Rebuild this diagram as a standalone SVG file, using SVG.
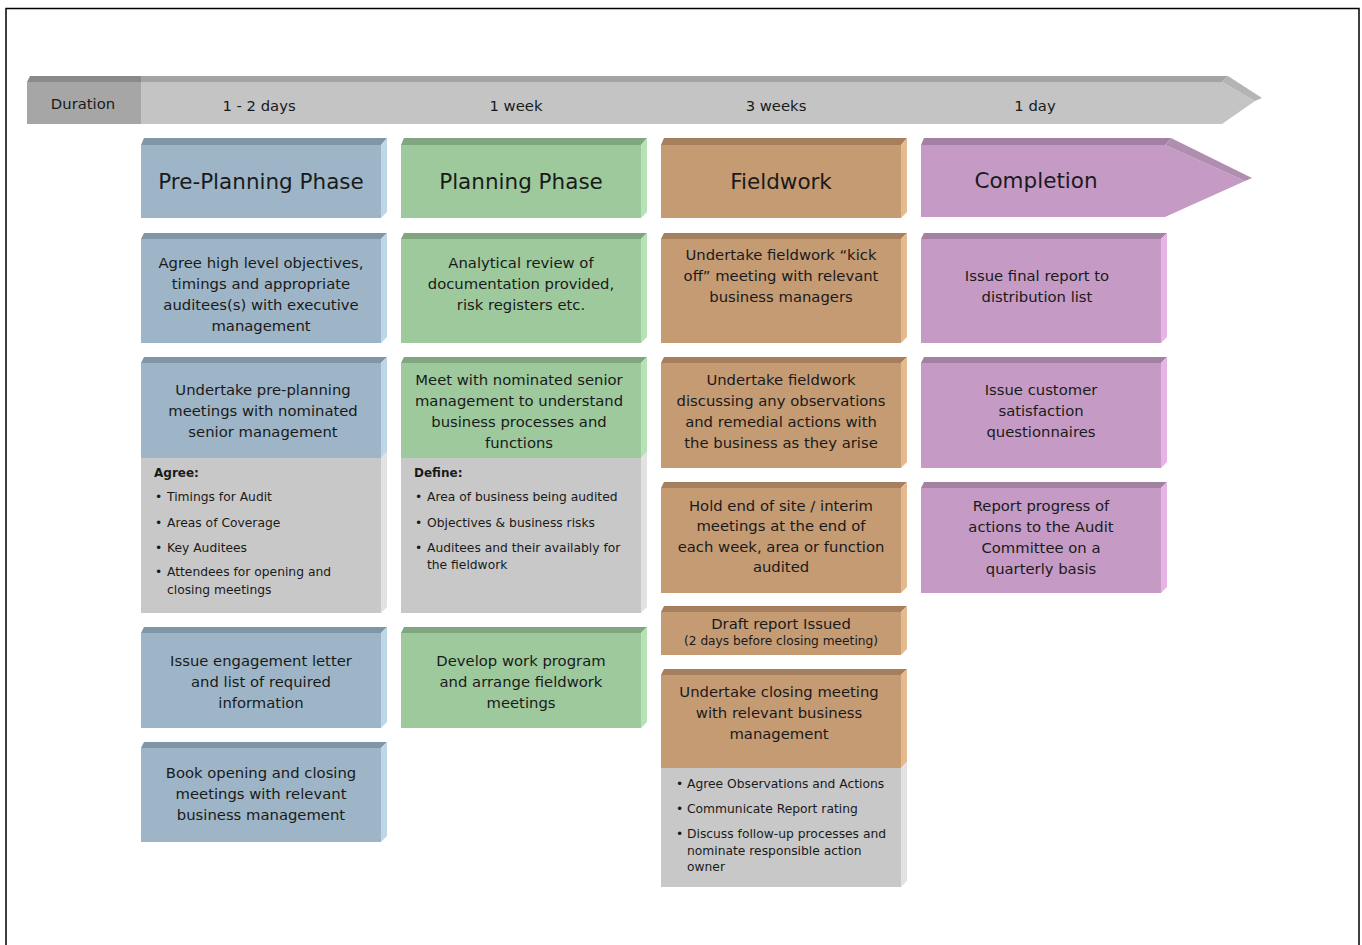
<svg xmlns="http://www.w3.org/2000/svg" width="1362" height="945" viewBox="0 0 1362 945">
<style>
text{font-family:"DejaVu Sans","Liberation Sans",sans-serif;fill:#1a1a1a}
.b{font-size:14.8px;text-anchor:middle}
.h{font-size:21.5px;text-anchor:middle}
.d{font-size:14.8px;text-anchor:middle}
.s{font-size:12.3px}
.sb{font-size:12px;font-weight:bold}
.bl .f{fill:#9db5c7}.bl .t{fill:#7f96a7}.bl .r{fill:#bcd7e7}
.gr .f{fill:#9dc99d}.gr .t{fill:#7fa67f}.gr .r{fill:#b6e2b6}
.tn .f{fill:#c59b74}.tn .t{fill:#a57f5e}.tn .r{fill:#e5ba8e}
.pu .f{fill:#c59bc5}.pu .t{fill:#a281a2}.pu .r{fill:#e5b5e5}
.gy{fill:#c8c8c8}.gyr{fill:#e2e2e2}
</style>
<rect x="6" y="8.5" width="1353" height="950" fill="#ffffff" stroke="#000000" stroke-width="1.5"/>

<g id="duration-bar">
<polygon points="27,82 30,76 141,76 141,82" fill="#8a8a8a"/>
<rect x="27" y="82" width="114" height="42" fill="#a6a6a6"/>
<polygon points="141,82 141,76 1228,76 1222,82" fill="#a4a4a4"/>
<polygon points="141,82 1222,82 1255,101 1222,124 141,124" fill="#c4c4c4"/>
<polygon points="1222,82 1228,76 1262,98 1255,101" fill="#b4b4b4"/>
<text class="d" x="83" y="109">Duration</text>
<text class="d" x="259" y="111">1 - 2 days</text>
<text class="d" x="516" y="111">1 week</text>
<text class="d" x="776" y="111">3 weeks</text>
<text class="d" x="1035" y="111">1 day</text>
</g>

<g id="hdr-preplanning" class="bl">
<polygon class="t" points="141,145 144,138 387,138 381,145"/>
<rect class="f" x="141" y="145" width="240" height="73"/>
<polygon class="r" points="381,145 387,138 387,212 381,218"/>
<text class="h" x="261" y="189">Pre-Planning Phase</text>
</g>
<g id="hdr-planning" class="gr">
<polygon class="t" points="401,145 404,138 647,138 641,145"/>
<rect class="f" x="401" y="145" width="240" height="73"/>
<polygon class="r" points="641,145 647,138 647,212 641,218"/>
<text class="h" x="521" y="189">Planning Phase</text>
</g>
<g id="hdr-fieldwork" class="tn">
<polygon class="t" points="661,145 664,138 907,138 901,145"/>
<rect class="f" x="661" y="145" width="240" height="73"/>
<polygon class="r" points="901,145 907,138 907,212 901,218"/>
<text class="h" x="781" y="189">Fieldwork</text>
</g>
<g id="hdr-completion" class="pu">
<polygon class="t" points="921,145 924,138 1171,138 1165,145"/>
<polygon class="f" points="921,145 1165,145 1245,181 1165,217 921,217"/>
<polygon points="1165,145 1171,138 1252,178 1245,181" fill="#b08eb0"/>
<text class="h" x="1036" y="188">Completion</text>
</g>

<!-- Pre-planning column -->
<g id="pp1" class="bl">
<polygon class="t" points="141,239 144,233 387,233 381,239"/>
<rect class="f" x="141" y="239" width="240" height="104"/>
<polygon class="r" points="381,239 387,233 387,337 381,343"/>
<text class="b" x="261" y="268">Agree high level objectives,</text>
<text class="b" x="261" y="289">timings and appropriate</text>
<text class="b" x="261" y="310">auditees(s) with executive</text>
<text class="b" x="261" y="331">management</text>
</g>
<g id="pp2" class="bl">
<polygon class="t" points="141,363 144,357 387,357 381,363"/>
<rect class="f" x="141" y="363" width="240" height="95"/>
<rect class="gy" x="141" y="458" width="240" height="155"/>
<polygon class="r" points="381,363 387,357 387,452 381,458"/>
<polygon class="gyr" points="381,458 387,452 387,607 381,613"/>
<text class="b" x="263" y="395">Undertake pre-planning</text>
<text class="b" x="263" y="416">meetings with nominated</text>
<text class="b" x="263" y="437">senior management</text>
<text class="sb" x="154" y="477">Agree:</text>
<text class="s" x="155" y="501">•</text><text class="s" x="167" y="501">Timings for Audit</text>
<text class="s" x="155" y="527">•</text><text class="s" x="167" y="527">Areas of Coverage</text>
<text class="s" x="155" y="552">•</text><text class="s" x="167" y="552">Key Auditees</text>
<text class="s" x="155" y="576">•</text><text class="s" x="167" y="576">Attendees for opening and</text>
<text class="s" x="167" y="594">closing meetings</text>
</g>
<g id="pp3" class="bl">
<polygon class="t" points="141,633 144,627 387,627 381,633"/>
<rect class="f" x="141" y="633" width="240" height="95"/>
<polygon class="r" points="381,633 387,627 387,722 381,728"/>
<text class="b" x="261" y="666">Issue engagement letter</text>
<text class="b" x="261" y="687">and list of required</text>
<text class="b" x="261" y="708">information</text>
</g>
<g id="pp4" class="bl">
<polygon class="t" points="141,748 144,742 387,742 381,748"/>
<rect class="f" x="141" y="748" width="240" height="94"/>
<polygon class="r" points="381,748 387,742 387,836 381,842"/>
<text class="b" x="261" y="778">Book opening and closing</text>
<text class="b" x="261" y="799">meetings with relevant</text>
<text class="b" x="261" y="820">business management</text>
</g>

<!-- Planning column -->
<g id="pl1" class="gr">
<polygon class="t" points="401,239 404,233 647,233 641,239"/>
<rect class="f" x="401" y="239" width="240" height="104"/>
<polygon class="r" points="641,239 647,233 647,337 641,343"/>
<text class="b" x="521" y="268">Analytical review of</text>
<text class="b" x="521" y="289">documentation provided,</text>
<text class="b" x="521" y="310">risk registers etc.</text>
</g>
<g id="pl2" class="gr">
<polygon class="t" points="401,363 404,357 647,357 641,363"/>
<rect class="f" x="401" y="363" width="240" height="95"/>
<rect class="gy" x="401" y="458" width="240" height="155"/>
<polygon class="r" points="641,363 647,357 647,452 641,458"/>
<polygon class="gyr" points="641,458 647,452 647,607 641,613"/>
<text class="b" x="519" y="385">Meet with nominated senior</text>
<text class="b" x="519" y="406">management to understand</text>
<text class="b" x="519" y="427">business processes and</text>
<text class="b" x="519" y="448">functions</text>
<text class="sb" x="414" y="477">Define:</text>
<text class="s" x="415" y="501">•</text><text class="s" x="427" y="501">Area of business being audited</text>
<text class="s" x="415" y="527">•</text><text class="s" x="427" y="527">Objectives &amp; business risks</text>
<text class="s" x="415" y="552">•</text><text class="s" x="427" y="552">Auditees and their availably for</text>
<text class="s" x="427" y="569">the fieldwork</text>
</g>
<g id="pl3" class="gr">
<polygon class="t" points="401,633 404,627 647,627 641,633"/>
<rect class="f" x="401" y="633" width="240" height="95"/>
<polygon class="r" points="641,633 647,627 647,722 641,728"/>
<text class="b" x="521" y="666">Develop work program</text>
<text class="b" x="521" y="687">and arrange fieldwork</text>
<text class="b" x="521" y="708">meetings</text>
</g>

<!-- Fieldwork column -->
<g id="fw1" class="tn">
<polygon class="t" points="661,239 664,233 907,233 901,239"/>
<rect class="f" x="661" y="239" width="240" height="104"/>
<polygon class="r" points="901,239 907,233 907,337 901,343"/>
<text class="b" x="781" y="260">Undertake fieldwork “kick</text>
<text class="b" x="781" y="281">off” meeting with relevant</text>
<text class="b" x="781" y="302">business managers</text>
</g>
<g id="fw2" class="tn">
<polygon class="t" points="661,363 664,357 907,357 901,363"/>
<rect class="f" x="661" y="363" width="240" height="105"/>
<polygon class="r" points="901,363 907,357 907,462 901,468"/>
<text class="b" x="781" y="385">Undertake fieldwork</text>
<text class="b" x="781" y="406">discussing any observations</text>
<text class="b" x="781" y="427">and remedial actions with</text>
<text class="b" x="781" y="448">the business as they arise</text>
</g>
<g id="fw3" class="tn">
<polygon class="t" points="661,488 664,482 907,482 901,488"/>
<rect class="f" x="661" y="488" width="240" height="105"/>
<polygon class="r" points="901,488 907,482 907,587 901,593"/>
<text class="b" x="781" y="511">Hold end of site / interim</text>
<text class="b" x="781" y="531">meetings at the end of</text>
<text class="b" x="781" y="552">each week, area or function</text>
<text class="b" x="781" y="572">audited</text>
</g>
<g id="fw4" class="tn">
<polygon class="t" points="661,612 664,606 907,606 901,612"/>
<rect class="f" x="661" y="612" width="240" height="43"/>
<polygon class="r" points="901,612 907,606 907,649 901,655"/>
<text class="b" x="781" y="629">Draft report Issued</text>
<text class="d" x="781" y="645" style="font-size:12.2px">(2 days before closing meeting)</text>
</g>
<g id="fw5" class="tn">
<polygon class="t" points="661,675 664,669 907,669 901,675"/>
<rect class="f" x="661" y="675" width="240" height="93"/>
<rect class="gy" x="661" y="768" width="240" height="119"/>
<polygon class="r" points="901,675 907,669 907,762 901,768"/>
<polygon class="gyr" points="901,768 907,762 907,881 901,887"/>
<text class="b" x="779" y="697">Undertake closing meeting</text>
<text class="b" x="779" y="718">with relevant business</text>
<text class="b" x="779" y="739">management</text>
<text class="s" x="676" y="788">•</text><text class="s" x="687" y="788">Agree Observations and Actions</text>
<text class="s" x="676" y="813">•</text><text class="s" x="687" y="813">Communicate Report rating</text>
<text class="s" x="676" y="838">•</text><text class="s" x="687" y="838">Discuss follow-up processes and</text>
<text class="s" x="687" y="855">nominate responsible action</text>
<text class="s" x="687" y="871">owner</text>
</g>

<!-- Completion column -->
<g id="cp1" class="pu">
<polygon class="t" points="921,239 924,233 1167,233 1161,239"/>
<rect class="f" x="921" y="239" width="240" height="104"/>
<polygon class="r" points="1161,239 1167,233 1167,337 1161,343"/>
<text class="b" x="1037" y="281">Issue final report to</text>
<text class="b" x="1037" y="302">distribution list</text>
</g>
<g id="cp2" class="pu">
<polygon class="t" points="921,363 924,357 1167,357 1161,363"/>
<rect class="f" x="921" y="363" width="240" height="105"/>
<polygon class="r" points="1161,363 1167,357 1167,462 1161,468"/>
<text class="b" x="1041" y="395">Issue customer</text>
<text class="b" x="1041" y="416">satisfaction</text>
<text class="b" x="1041" y="437">questionnaires</text>
</g>
<g id="cp3" class="pu">
<polygon class="t" points="921,488 924,482 1167,482 1161,488"/>
<rect class="f" x="921" y="488" width="240" height="105"/>
<polygon class="r" points="1161,488 1167,482 1167,587 1161,593"/>
<text class="b" x="1041" y="511">Report progress of</text>
<text class="b" x="1041" y="532">actions to the Audit</text>
<text class="b" x="1041" y="553">Committee on a</text>
<text class="b" x="1041" y="574">quarterly basis</text>
</g>

<g id="connectors"></g>
</svg>
